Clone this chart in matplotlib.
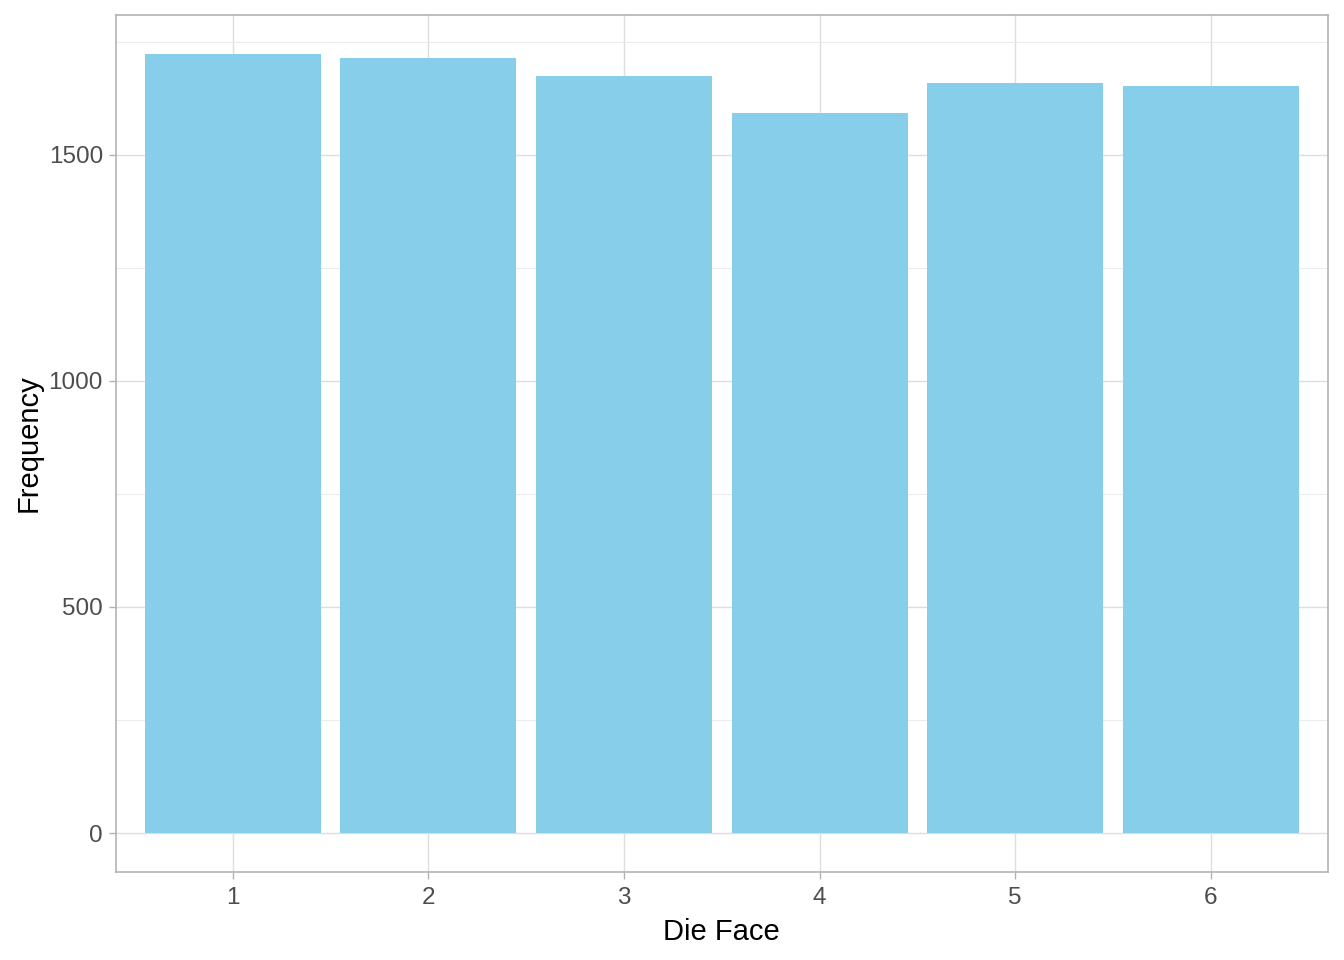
import matplotlib
matplotlib.use("Agg")
import matplotlib.pyplot as plt

faces = ["1", "2", "3", "4", "5", "6"]
counts = [1723, 1714, 1674, 1593, 1659, 1652]
y_ticks = [0, 500, 1000, 1500]
y_minor = [250, 750, 1250, 1750]

plt.rcParams['font.family'] = ['Liberation Sans', 'DejaVu Sans']

fig = plt.figure(figsize=(13.44, 9.6), dpi=100)
ax = fig.add_axes([115.5/1344, 88/960, (1328-115.5)/1344, (872-15)/960])

x = list(range(1, len(faces) + 1))
ax.bar(x, counts, width=0.9, color="#87CEEB", zorder=2)

ymax = max(counts)
ax.set_ylim(-0.05*ymax, ymax*1.05)
ax.set_xlim(0.4, 6.6)
ax.set_xticks(x)
ax.set_xticklabels(faces)
ax.set_yticks(y_ticks)
ax.set_yticks(y_minor, minor=True)

ax.grid(which='major', color='#DEDEDE', linewidth=1.0, zorder=0)
ax.grid(which='minor', axis='y', color='#EBEBEB', linewidth=0.7, zorder=0)
ax.set_axisbelow(True)

for s in ax.spines.values():
    s.set_color('#B3B3B3')
    s.set_linewidth(1.2)

ax.tick_params(axis='both', which='major', colors='#B3B3B3', labelcolor='#4D4D4D',
               labelsize=17.5, length=5, width=1.0)
ax.tick_params(axis='both', which='minor', length=0)
ax.tick_params(axis='x', pad=6)
ax.tick_params(axis='y', pad=4)

ax.set_xlabel("Die Face", fontsize=21, color='black', labelpad=6)
ax.set_ylabel("Frequency", fontsize=21, color='black', labelpad=4)

fig.savefig("out.png", dpi=100, facecolor='white')
